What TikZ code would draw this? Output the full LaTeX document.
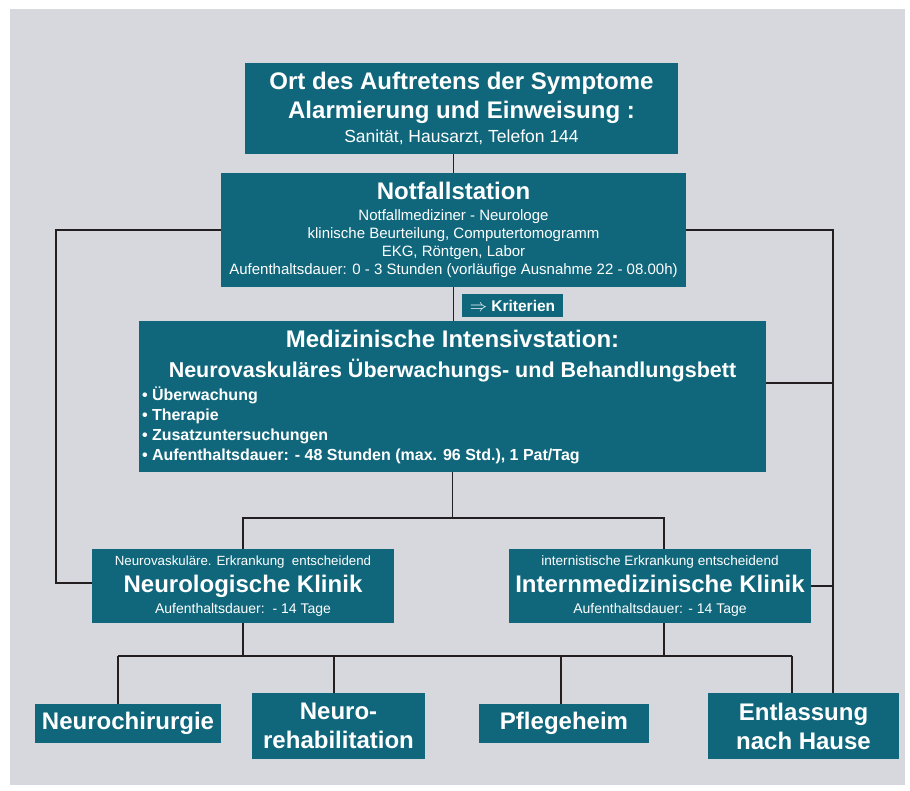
\documentclass[tikz,border=0pt]{standalone}
\usepackage{fontspec}
\setmainfont{Liberation Sans}
\usetikzlibrary{positioning,calc}
\definecolor{panel}{HTML}{10677C}
\definecolor{paper}{HTML}{D7D8DD}
\definecolor{ink}{HTML}{231F20}
\newcommand\headfont{\fontsize{24}{28}\selectfont\bfseries}

\begin{document}
\begin{tikzpicture}[x=1pt,y=-1pt,
  box/.style={fill=panel,text=white,inner sep=0pt,align=center},
  link/.style={draw=ink,line width=1.4pt}]
\useasboundingbox (0,0) rectangle (910,790);
\fill[paper] (10,9) rectangle (905,785);
% boxes
\node[box,minimum width=433,minimum height=91,font=\fontsize{17.5}{24}\selectfont] (ort) at (461.5,108.5)
  {{\headfont Ort des Auftretens der Symptome}\\[5pt]{\headfont Alarmierung und Einweisung :}\\Sanität, Hausarzt, Telefon 144};
\node[box,minimum width=465,minimum height=114,font=\fontsize{15}{18}\selectfont] (notfall) at (453.5,230)
  {{\headfont Notfallstation}\\[3pt]Notfallmediziner - Neurologe\\klinische Beurteilung, Computertomogramm\\EKG, Röntgen, Labor\\Aufenthaltsdauer: 0 - 3 Stunden (vorläufige Ausnahme 22 - 08.00h)};
\node[box,minimum width=101,minimum height=23,font=\fontsize{15.5}{16}\selectfont\bfseries] (kriterien) at (512.5,305.5)
  {{\fontsize{17}{16}\selectfont$\Rightarrow$} Kriterien};
\node[fill=panel,text=white,minimum width=627,minimum height=151,text width=621,inner sep=3pt] (intensiv) at (452.5,396.5)
  {\spaceskip=0pt \xspaceskip=0pt
   \centering\fontsize{24}{30}\selectfont\bfseries Medizinische Intensivstation:\par
   \fontsize{21.5}{30}\selectfont Neurovaskuläres Überwachungs- und Behandlungsbett\par
   \vspace{3pt}\raggedright\fontsize{16}{20}\selectfont
   • Überwachung\par • Therapie\par • Zusatzuntersuchungen\par
   • Aufenthaltsdauer: - 48 Stunden (max. 96 Std.), 1 Pat/Tag\par};
\node[box,minimum width=302,minimum height=74,font=\fontsize{13.3}{21}\selectfont] (neuro) at (243,586)
  {Neurovaskuläre. Erkrankung\ \ entscheidend\\[6pt]{\headfont Neurologische Klinik}\\{\fontsize{14}{21}\selectfont Aufenthaltsdauer:\ \ - 14 Tage}};
\node[box,minimum width=302,minimum height=74,font=\fontsize{13.6}{21}\selectfont] (intern) at (660,586)
  {internistische Erkrankung entscheidend\\[6pt]{\headfont Internmedizinische Klinik}\\{\fontsize{14}{21}\selectfont Aufenthaltsdauer: - 14 Tage}};
\node[box,minimum width=186,minimum height=39,font=\headfont] (chir) at (128,723.5) {Neurochirurgie};
\node[box,minimum width=173,minimum height=66,font=\fontsize{24}{29}\selectfont\bfseries] (reha) at (338.5,726) {Neuro-\\rehabilitation};
\node[box,minimum width=170,minimum height=39,font=\headfont] (pflege) at (564,723.5) {Pflegeheim};
\node[box,minimum width=191,minimum height=66,font=\fontsize{24}{29}\selectfont\bfseries] (heim) at (803.5,726) {Entlassung\\nach Hause};
% rails and junctions
\coordinate (lrail) at (56,230);
\coordinate (rrail) at (833,230);
\coordinate (split) at (452.5,518);
\coordinate (busl) at (118,656);
\coordinate (busr) at (792,656);
% connectors
\draw[link] (ort.south -| notfall.north) -- (notfall.north);
\draw[link] (notfall.south) -- (notfall.south |- intensiv.north);
\draw[link] (intensiv.south) -- (split);
\draw[link] (neuro.north) |- (split) -| ([xshift=4pt]intern.north);
\draw[link] (notfall.west) -- (lrail) |- ([yshift=3pt]neuro.west);
\draw[link] (notfall.east) -- (rrail) -- (rrail |- heim.north);
\draw[link] ([yshift=13.5pt]intensiv.east) -| (rrail);
\draw[link] (intern.east) -| (rrail);
\draw[link] (busl) -- (busr);
\draw[link] (neuro.south) -- (neuro.south |- busl);
\draw[link] ([xshift=4pt]intern.south) -- ([xshift=4pt]intern.south |- busl);
\foreach \n/\dx in {chir/-10,reha/-4.5,pflege/-3,heim/-11.5}
  {\draw[link] ([xshift=\dx pt]\n.north) -- ([xshift=\dx pt]\n.north |- busl);}
\end{tikzpicture}
\end{document}
